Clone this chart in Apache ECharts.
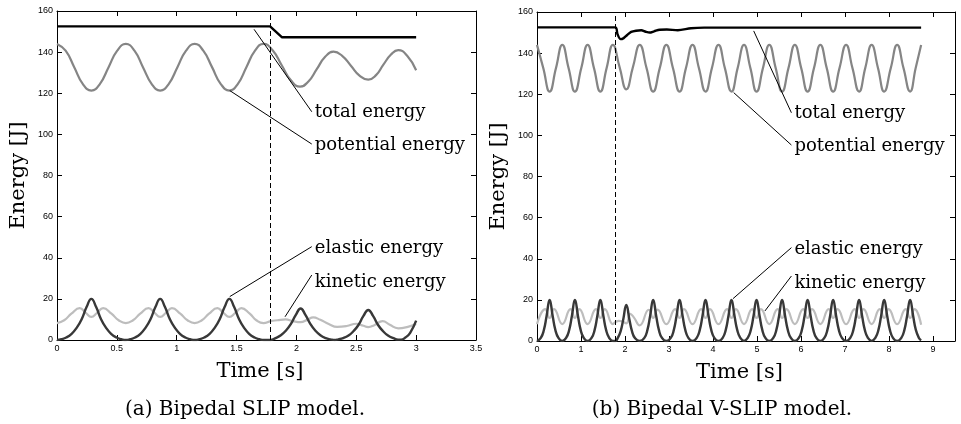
<!DOCTYPE html>
<html>
<head>
<meta charset="utf-8">
<script src="https://cdn.jsdelivr.net/npm/echarts@6/dist/echarts.min.js"></script>
<style>
  html, body { margin: 0; padding: 0; background: #fff; }
  #chart { width: 961px; height: 424px; }
</style>
</head>
<body>
<div id="chart"></div>
<script>
// ---- (a) Bipedal SLIP model, points are [time s, energy J]
const totalA = [[0, 152.5], [1.78, 152.5], [1.88, 147.2], [3.0, 147.2]]
const potentialA = [
  [0, 144], [0.072, 140.7], [0.144, 132.7], [0.215, 124.6], [0.287, 121.3], [0.359, 124.6], [0.431, 132.7], [0.503, 140.7], [0.575, 144],
  [0.647, 140.7], [0.718, 132.7], [0.79, 124.6], [0.862, 121.3], [0.934, 124.6], [1.006, 132.7], [1.078, 140.7], [1.15, 144],
  [1.222, 140.7], [1.295, 132.7], [1.367, 124.6], [1.44, 121.3], [1.511, 124.6], [1.582, 132.7], [1.654, 140.7], [1.725, 144],
  [1.801, 140.9], [1.877, 133.6], [1.954, 126.3], [2.03, 123.2], [2.1, 125.7], [2.17, 131.7], [2.24, 137.7], [2.31, 140.2],
  [2.382, 138.2], [2.455, 133.4], [2.527, 128.6], [2.6, 126.6], [2.665, 128.8], [2.725, 133.8], [2.79, 138.8], [2.85, 141],
  [2.925, 138.2], [3.0, 131.2]
]
const elasticA = [
  [0, 0], [0.037, 0.4], [0.077, 1.2], [0.122, 3], [0.165, 6], [0.205, 10], [0.247, 16], [0.287, 20], [0.327, 16], [0.369, 10], [0.409, 6], [0.452, 3], [0.497, 1.2], [0.537, 0.4], [0.575, 0],
  [0.612, 0.4], [0.652, 1.2], [0.697, 3], [0.74, 6], [0.78, 10], [0.822, 16], [0.862, 20], [0.902, 16], [0.944, 10], [0.984, 6], [1.027, 3], [1.072, 1.2], [1.112, 0.4], [1.15, 0],
  [1.19, 0.4], [1.23, 1.2], [1.275, 3], [1.318, 6], [1.358, 10], [1.4, 16], [1.44, 20], [1.48, 16], [1.522, 10], [1.562, 6], [1.605, 3], [1.65, 1.2], [1.69, 0.4], [1.727, 0], [1.785, 0],
  [1.825, 0.9], [1.87, 2.3], [1.913, 4.6], [1.953, 7.7], [1.995, 12.2], [2.035, 15.3], [2.075, 12.2], [2.117, 7.7], [2.157, 4.6], [2.2, 2.3], [2.245, 0.9], [2.285, 0.3], [2.32, 0],
  [2.35, 0.3], [2.39, 0.9], [2.435, 2.2], [2.478, 4.4], [2.518, 7.3], [2.56, 11.7], [2.6, 14.6], [2.64, 11.7], [2.682, 7.3], [2.722, 4.4], [2.765, 2.2], [2.81, 0.9], [2.85, 0.2],
  [2.875, 0.2], [2.91, 1.2], [2.95, 3.5], [3.0, 9.4]
]
const kineticA = [
  [0, 8.2], [0.06, 9.6], [0.12, 12.8], [0.19, 15.5], [0.24, 13.2], [0.287, 11.2], [0.335, 13.2], [0.385, 15.5], [0.455, 12.8], [0.515, 9.6], [0.575, 8.2],
  [0.635, 9.6], [0.695, 12.8], [0.765, 15.5], [0.815, 13.2], [0.862, 11.2], [0.91, 13.2], [0.96, 15.5], [1.03, 12.8], [1.09, 9.6], [1.15, 8.2],
  [1.21, 9.6], [1.27, 12.8], [1.34, 15.5], [1.39, 13.2], [1.44, 11.2], [1.49, 13.2], [1.54, 15.5], [1.61, 12.8], [1.665, 9.6], [1.725, 8.2],
  [1.785, 9.2], [1.84, 9.6], [1.91, 10], [1.97, 9.2], [2.035, 8.7], [2.09, 9.8], [2.14, 11], [2.2, 9.8], [2.27, 7.8], [2.34, 6.4],
  [2.42, 6.8], [2.5, 7.9], [2.56, 6.9], [2.6, 6.3], [2.65, 7.2], [2.72, 9.2], [2.78, 7.4], [2.85, 5.7], [2.93, 6.4], [3.0, 7.8]
]

// ---- (b) Bipedal V-SLIP model
const totalB = [
  [0, 152.5], [1.78, 152.5], [1.83, 149.2], [1.9, 146.8], [1.97, 147.3], [2.05, 148.8], [2.14, 150.3], [2.25, 150.9], [2.37, 151.1],
  [2.47, 150.4], [2.56, 150], [2.66, 150.6], [2.79, 151.4], [2.95, 151.5], [3.2, 151.1], [3.5, 152.1], [3.8, 152.4], [8.73, 152.4]
]
const potentialB = [
  [0, 144], [0.143, 132.7], [0.287, 121.3], [0.431, 132.7], [0.575, 144], [0.718, 132.7], [0.862, 121.3], [1.006, 132.7], [1.15, 144],
  [1.295, 132.7], [1.44, 121.3], [1.582, 132.7], [1.725, 144], [1.877, 133.2], [2.03, 122.4], [2.18, 133.2], [2.335, 144],
  [2.49, 132.7], [2.64, 121.3], [2.79, 132.7], [2.94, 144], [3.09, 132.7], [3.24, 121.3], [3.385, 132.7], [3.535, 144],
  [3.68, 132.7], [3.83, 121.3], [3.975, 132.7], [4.125, 144], [4.27, 132.7], [4.42, 121.3], [4.56, 132.7], [4.705, 144],
  [4.85, 132.7], [4.99, 121.3], [5.135, 132.7], [5.28, 144], [5.425, 132.7], [5.57, 121.3], [5.715, 132.7], [5.86, 144],
  [6.005, 132.7], [6.15, 121.3], [6.295, 132.7], [6.44, 144], [6.585, 132.7], [6.73, 121.3], [6.875, 132.7], [7.025, 144],
  [7.17, 132.7], [7.32, 121.3], [7.46, 132.7], [7.605, 144], [7.75, 132.7], [7.89, 121.3], [8.04, 132.7], [8.185, 144],
  [8.33, 132.7], [8.48, 121.3], [8.605, 132.7], [8.73, 144]
]
const elasticB = [
  [0, 0], [0.087, 1.5], [0.157, 5.4], [0.217, 12], [0.287, 20], [0.357, 12], [0.417, 5.4], [0.487, 1.5], [0.575, 0],
  [0.662, 1.5], [0.732, 5.4], [0.792, 12], [0.862, 20], [0.932, 12], [0.992, 5.4], [1.062, 1.5], [1.15, 0],
  [1.24, 1.5], [1.31, 5.4], [1.37, 12], [1.44, 20], [1.51, 12], [1.57, 5.4], [1.64, 1.5], [1.725, 0], [1.785, 0],
  [1.83, 1.3], [1.9, 4.7], [1.96, 10.5], [2.03, 17.5], [2.1, 10.5], [2.16, 4.7], [2.23, 1.3], [2.335, 0],
  [2.44, 1.5], [2.51, 5.4], [2.57, 12], [2.64, 20], [2.71, 12], [2.77, 5.4], [2.84, 1.5], [2.94, 0],
  [3.04, 1.5], [3.11, 5.4], [3.17, 12], [3.24, 20], [3.31, 12], [3.37, 5.4], [3.44, 1.5], [3.535, 0],
  [3.63, 1.5], [3.7, 5.4], [3.76, 12], [3.83, 20], [3.9, 12], [3.96, 5.4], [4.03, 1.5], [4.125, 0],
  [4.22, 1.5], [4.29, 5.4], [4.35, 12], [4.42, 20], [4.49, 12], [4.55, 5.4], [4.62, 1.5], [4.705, 0],
  [4.79, 1.5], [4.86, 5.4], [4.92, 12], [4.99, 20], [5.06, 12], [5.12, 5.4], [5.19, 1.5], [5.28, 0],
  [5.37, 1.5], [5.44, 5.4], [5.5, 12], [5.57, 20], [5.64, 12], [5.7, 5.4], [5.77, 1.5], [5.86, 0],
  [5.95, 1.5], [6.02, 5.4], [6.08, 12], [6.15, 20], [6.22, 12], [6.28, 5.4], [6.35, 1.5], [6.44, 0],
  [6.53, 1.5], [6.6, 5.4], [6.66, 12], [6.73, 20], [6.8, 12], [6.86, 5.4], [6.93, 1.5], [7.025, 0],
  [7.12, 1.5], [7.19, 5.4], [7.25, 12], [7.32, 20], [7.39, 12], [7.45, 5.4], [7.52, 1.5], [7.605, 0],
  [7.69, 1.5], [7.76, 5.4], [7.82, 12], [7.89, 20], [7.96, 12], [8.02, 5.4], [8.09, 1.5], [8.185, 0],
  [8.28, 1.5], [8.35, 5.4], [8.41, 12], [8.48, 20], [8.55, 12], [8.61, 5.4], [8.68, 1.5], [8.73, 0.3]
]
const kineticB = [
  [0, 8.2], [0.187, 15.5], [0.287, 11.2], [0.387, 15.5], [0.575, 8.2], [0.762, 15.5], [0.862, 11.2], [0.962, 15.5], [1.15, 8.2],
  [1.34, 15.5], [1.44, 11.2], [1.54, 15.5], [1.725, 8.2], [1.785, 9.2], [1.86, 9.8], [1.93, 9.6], [2.03, 8.6], [2.12, 13.2],
  [2.2, 11.5], [2.335, 7.6], [2.54, 15.2], [2.64, 11.2], [2.74, 15.3], [2.94, 8.2], [3.14, 15.5], [3.24, 11.2], [3.34, 15.5],
  [3.535, 8.2], [3.73, 15.5], [3.83, 11.2], [3.93, 15.5], [4.125, 8.2], [4.32, 15.5], [4.42, 11.2], [4.52, 15.5], [4.705, 8.2],
  [4.89, 15.5], [4.99, 11.2], [5.09, 15.5], [5.28, 8.2], [5.47, 15.5], [5.57, 11.2], [5.67, 15.5], [5.86, 8.2], [6.05, 15.5],
  [6.15, 11.2], [6.25, 15.5], [6.44, 8.2], [6.63, 15.5], [6.73, 11.2], [6.83, 15.5], [7.025, 8.2], [7.22, 15.5], [7.32, 11.2],
  [7.42, 15.5], [7.605, 8.2], [7.79, 15.5], [7.89, 11.2], [7.99, 15.5], [8.185, 8.2], [8.38, 15.5], [8.48, 11.2], [8.58, 15.5],
  [8.73, 7.9]
]

// impact time (dashed line) for both panels
const impactTime = [1.78]

// pointer lines from a curve to its text, [start, end] in data coords
const pointerNames = ['total energy', 'potential energy', 'elastic energy', 'kinetic energy']
const pointersA = [[[1.646, 151.1], [2.128, 111.0]], [[1.443, 121.3], [2.128, 95.3]], [[1.443, 21.1], [2.128, 45.4]], [[1.905, 11.3], [2.128, 31.6]]]
const pointersB = [[[4.925, 150.8], [5.782, 111.0]], [[4.47, 120.8], [5.782, 95.3]], [[4.455, 20.6], [5.782, 45.4]], [[5.18, 14.6], [5.782, 31.6]]]
const pointerShift = [1, 1.5, 2, 7.5]

const captions = ['(a) Bipedal SLIP model.', '(b) Bipedal V-SLIP model.']

const serif = 'DejaVu Serif'
const sans = 'Liberation Sans'
const black = '#000'

function xAxes(grid, max, interval, hideMax) {
  let base = {
    type: 'value', gridIndex: grid, min: 0, max: max, interval: interval,
    axisLine: { show: true, onZero: false, lineStyle: { color: black, width: 1 } },
    axisTick: { show: true, inside: true, length: 5, lineStyle: { color: black, width: 1 } },
    splitLine: { show: false }
  }
  return [
    Object.assign({}, base, {
      position: 'bottom',
      axisLabel: { color: black, fontFamily: sans, fontSize: 9, margin: 4, showMaxLabel: hideMax ? false : null },
      name: 'Time [s]', nameLocation: 'middle', nameGap: 21,
      nameTextStyle: { color: black, fontFamily: serif, fontSize: 21, padding: [0, 13, 0, 0] }
    }),
    Object.assign({}, base, { position: 'top', axisLabel: { show: false } })
  ]
}

function yAxes(grid) {
  let base = {
    type: 'value', gridIndex: grid, min: 0, max: 160, interval: 20,
    axisLine: { show: true, onZero: false, lineStyle: { color: black, width: 1 } },
    axisTick: { show: true, inside: true, length: 5, lineStyle: { color: black, width: 1 } },
    splitLine: { show: false }
  }
  return [
    Object.assign({}, base, {
      position: 'left',
      axisLabel: { color: black, fontFamily: sans, fontSize: 9, margin: 4 },
      name: 'Energy [J]', nameLocation: 'middle', nameGap: 28, nameRotate: 90,
      nameTextStyle: { color: black, fontFamily: serif, fontSize: 21 }
    }),
    Object.assign({}, base, { position: 'right', axisLabel: { show: false } })
  ]
}

function curve(data, axis, color, width, smooth) {
  return {
    type: 'line', xAxisIndex: axis, yAxisIndex: axis, data: data,
    symbol: 'none', showSymbol: false, smooth: smooth, silent: true,
    lineStyle: { color: color, width: width }
  }
}

function pointer(text, data, axis, dy) {
  return {
    type: 'line', xAxisIndex: axis, yAxisIndex: axis, data: data,
    symbol: 'none', showSymbol: false, silent: true,
    lineStyle: { color: black, width: 1 },
    endLabel: { show: true, formatter: text, distance: 3, offset: [0, dy], color: black, fontFamily: serif, fontSize: 18 }
  }
}

function dashed(axis) {
  return {
    type: 'line', xAxisIndex: axis, yAxisIndex: axis, data: [],
    markLine: {
      silent: true, symbol: 'none', animation: false,
      label: { show: false },
      lineStyle: { color: black, width: 1, type: [5, 3] },
      data: impactTime.map(t => ({ xAxis: t }))
    }
  }
}

function panel(axis, total, potential, elastic, kinetic, pointers, totalSmooth) {
  let list = [
    dashed(axis),
    curve(kinetic, axis, '#bdbdbd', 2.2, 0.5),
    curve(elastic, axis, '#383838', 2.4, 0.5),
    curve(potential, axis, '#858585', 2.2, 0.5),
    curve(total, axis, black, 2.4, totalSmooth)
  ]
  pointers.forEach((p, i) => list.push(pointer(pointerNames[i], p, axis, pointerShift[i])))
  return list
}

let chart = echarts.init(document.getElementById('chart'))
chart.setOption({
  animation: false,
  backgroundColor: '#fff',
  title: [
    { text: captions[0], left: 245, top: 400, textAlign: 'center', padding: 0, textStyle: { color: black, fontFamily: serif, fontSize: 20, fontWeight: 'normal' } },
    { text: captions[1], left: 722, top: 400, textAlign: 'center', padding: 0, textStyle: { color: black, fontFamily: serif, fontSize: 20, fontWeight: 'normal' } }
  ],
  grid: [
    { left: 57, top: 11, width: 419, height: 329, outerBoundsMode: 'none' },
    { left: 537, top: 12, width: 418, height: 329, outerBoundsMode: 'none' }
  ],
  xAxis: xAxes(0, 3.5, 0.5, false).concat(xAxes(1, 9.5, 1, true)),
  yAxis: yAxes(0).concat(yAxes(1)),
  series: panel(0, totalA, potentialA, elasticA, kineticA, pointersA, false)
    .concat(panel(2, totalB, potentialB, elasticB, kineticB, pointersB, 0.3))
})
</script>
</body>
</html>
